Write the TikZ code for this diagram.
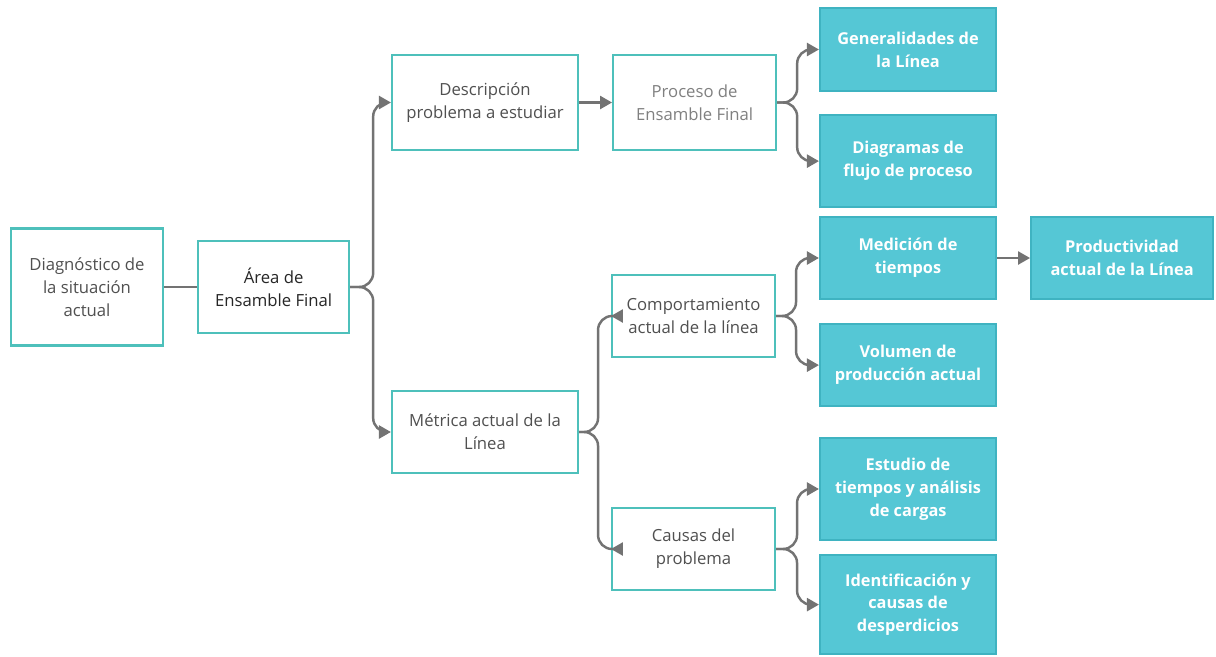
\documentclass[tikz,border=0pt]{standalone}
\usepackage{fontspec}
\setmainfont{Open Sans}
\usetikzlibrary{positioning, arrows.meta}
\definecolor{tealline}{HTML}{4EC0BB}
\definecolor{cyanfill}{HTML}{55C7D5}
\definecolor{cyanline}{HTML}{3FB3C1}
\definecolor{linegray}{HTML}{737373}
\definecolor{txtgray}{HTML}{505050}

\begin{document}
\begin{tikzpicture}[o/.style={rectangle, draw=tealline, line width=1.2pt, fill=white, text=txtgray, align=center, font=\fontsize{9.5}{13}\selectfont, inner sep=0pt},
	f/.style={rectangle, draw=cyanline, line width=1.2pt, fill=cyanfill, text=white, align=center, font=\fontsize{9.3}{13}\selectfont\bfseries, inner sep=0pt, minimum width=3.52cm, minimum height=1.64cm},
	ln/.style={draw=linegray, line width=1.4pt, rounded corners=0.28cm},
	arr/.style={ln, -{Triangle[length=0.24cm, width=0.26cm]}}]
		\useasboundingbox (0,0) rectangle (24.32,-13.12);

		\node[o, minimum width=3.04cm, minimum height=2.34cm] (D) at (1.74,-5.74) {Diagnóstico de\\la situación\\actual};
		\node[o, minimum width=3.02cm, minimum height=1.84cm, right=0.66cm of D, text=black!85] (A) {Área de\\Ensamble Final};

		\node[o, minimum width=3.72cm, minimum height=1.9cm] (Desc) at (9.7,-2.05) {Descripción\\problema a estudiar};
		\node[o, minimum width=3.26cm, minimum height=1.9cm, right=0.66cm of Desc, text=black!50] (Proc) {Proceso de\\Ensamble Final};
		\node[f, minimum height=1.66cm] (Gen) at (18.16,-0.99) {Generalidades de\\la Línea};
		\node[f, minimum height=1.84cm, below=0.44cm of Gen] (Diag) {Diagramas de\\flujo de proceso};

		\node[o, minimum width=3.72cm, minimum height=1.64cm] (Met) at (9.7,-8.64) {Métrica actual de la\\Línea};
		\node[o, minimum width=3.26cm, minimum height=1.64cm] (Comp) at (13.87,-6.32) {Comportamiento\\actual de la línea};
		\node[o, minimum width=3.26cm, minimum height=1.64cm] (Caus) at (13.87,-10.98) {Causas del\\problema};

		\node[f] (Med) at (18.16,-5.16) {Medición de\\tiempos};
		\node[f, below=0.46cm of Med] (Vol) {Volumen de\\producción actual};
		\node[f, minimum width=3.64cm, right=0.66cm of Med] (Prod) {Productividad\\actual de la Línea};
		\node[f, minimum height=2.04cm] (Est) at (18.16,-9.78) {Estudio de\\tiempos y análisis\\de cargas};
		\node[f, minimum height=1.98cm, below=0.26cm of Est] (Iden) {Identificación y\\causas de\\desperdicios};


		\draw[ln] (D) -- (A);
		\draw[arr] (A.east) -- ([xshift=0.46cm]A.east) |- (Desc.west);
		\draw[arr] (A.east) -- ([xshift=0.46cm]A.east) |- (Met.west);
		\draw[arr] (Desc) -- (Proc);
		\draw[arr] (Proc.east) -- ([xshift=0.4cm]Proc.east) |- (Gen.west);
		\draw[arr] (Proc.east) -- ([xshift=0.4cm]Proc.east) |- (Diag.west);
		\draw[arr] (Met.east) -- ([xshift=0.38cm]Met.east) |- (Comp.west);
		\draw[arr] (Met.east) -- ([xshift=0.38cm]Met.east) |- (Caus.west);
		\draw[arr] (Comp.east) -- ([xshift=0.4cm]Comp.east) |- (Med.west);
		\draw[arr] (Comp.east) -- ([xshift=0.4cm]Comp.east) |- (Vol.west);
		\draw[arr] (Med) -- (Prod);
		\draw[arr] (Caus.east) -- ([xshift=0.42cm]Caus.east) |- (Est.west);
		\draw[arr] (Caus.east) -- ([xshift=0.42cm]Caus.east) |- (Iden.west);
	\end{tikzpicture}
\end{document}
